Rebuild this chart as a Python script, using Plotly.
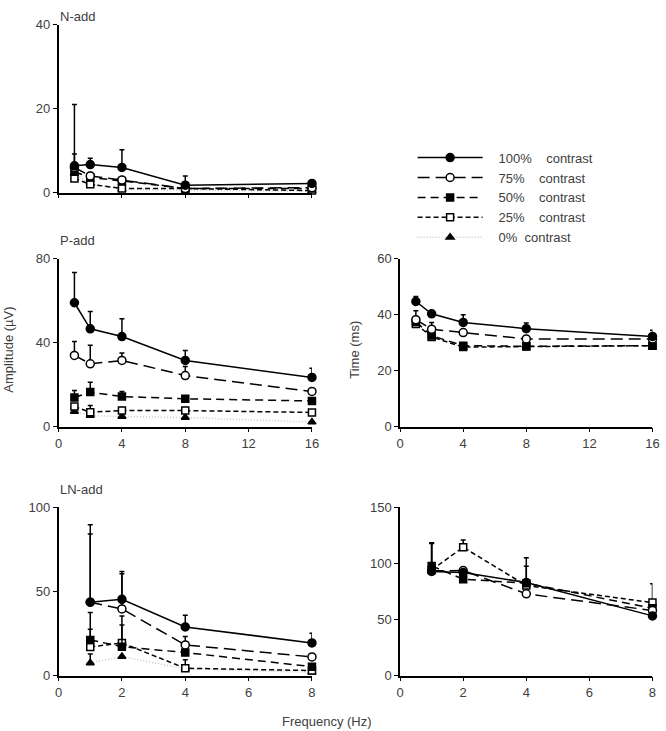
import plotly.graph_objects as go

# ---------------- data ----------------
freq16 = [1, 2, 4, 8, 16]
freq8 = [1, 2, 4, 8]
NB = "\u00a0"
series_names = [NB * 3 + "100%" + NB * 4 + "contrast",
                 NB * 3 + "75%" + NB * 4 + "contrast",
                 NB * 3 + "50%" + NB * 4 + "contrast",
                 NB * 3 + "25%" + NB * 4 + "contrast",
                 NB * 3 + "0%" + NB * 2 + "contrast"]

# N-add amplitude
n100 = [6.4, 6.7, 6.0, 1.8, 2.2]
n100_err = [2.8, 1.5, 4.2, 2.2, 0.4]
n75 = [6.0, 4.0, 3.0, 1.0, 1.2]
n75_err = [15.0, 0.8, 0.5, 0.5, 0.3]
n50 = [5.0, 3.6, 2.8, 1.0, 1.0]
n50_err = [0.8, 0.5, 0.5, 0.3, 0.3]
n25 = [3.4, 2.0, 1.0, 1.0, 0.5]
n25_err = [0.6, 0.4, 0.3, 0.3, 0.2]
n0 = [4.6, 2.2, 0.8, 0.6, 0.4]
n0_err = [0.5, 0.3, 0.2, 0.2, 0.1]

# P-add amplitude
p100 = [59.0, 46.6, 42.9, 31.5, 23.4]
p100_err = [14.4, 8.2, 8.5, 4.7, 4.4]
p75 = [33.9, 29.9, 31.5, 24.3, 16.7]
p75_err = [6.6, 8.9, 3.5, 4.3, 0.0]
p50 = [13.8, 16.4, 14.3, 13.2, 12.2]
p50_err = [3.4, 4.7, 2.4, 0.0, 0.0]
p25 = [9.5, 6.8, 7.6, 7.6, 6.7]
p25_err = [0.0, 3.2, 1.5, 1.5, 1.2]
p0 = [7.2, 5.2, 4.8, 4.3, 2.1]
p0_err = [0.0, 0.0, 0.0, 0.0, 0.0]

# P-add time
t100 = [44.7, 40.3, 37.2, 35.0, 32.2]
t100_err = [1.8, 1.1, 2.8, 2.0, 2.2]
t75 = [38.2, 34.8, 33.6, 31.3, 31.3]
t75_err = [3.2, 2.4, 0.0, 0.0, 0.0]
t50 = [37.4, 32.5, 28.9, 28.7, 28.9]
t50_err = [0.0, 1.0, 0.0, 0.0, 0.0]
t25 = [36.7, 32.0, 28.4, 28.6, 28.9]
t25_err = [0.0, 0.0, 0.0, 0.0, 0.0]

# LN-add amplitude
l100 = [43.6, 45.3, 28.9, 19.4]
l100_err = [46.0, 16.5, 6.9, 5.7]
l75 = [43.6, 39.6, 18.2, 11.1]
l75_err = [40.5, 20.8, 5.0, 1.5]
l50 = [21.2, 17.2, 13.7, 5.3]
l50_err = [16.2, 18.2, 5.1, 0.0]
l25 = [17.0, 19.4, 4.4, 3.0]
l25_err = [10.5, 10.6, 5.0, 0.5]
l0 = [7.5, 11.3, 4.0, 2.0]
l0_err = [5.4, 0.0, 0.0, 0.0]

# LN-add time
b100 = [92.7, 91.8, 82.9, 53.2]
b100_err = [0.0, 0.0, 22.0, 0.0]
b75 = [93.3, 93.6, 72.8, 58.0]
b75_err = [25.0, 0.0, 0.0, 0.0]
b50 = [97.7, 85.8, 82.3, 60.0]
b50_err = [20.0, 0.0, 15.0, 0.0]
b25 = [94.1, 114.3, 80.2, 65.0]
b25_err = [24.0, 6.5, 0.0, 16.7]

# ---------------- styles ----------------
styles = [
    dict(dash="solid", color="black", symbol="circle", fill="black", size=8),
    dict(dash="12px,6px", color="black", symbol="circle", fill="white", size=8),
    dict(dash="8px,5px", color="black", symbol="square", fill="black", size=7),
    dict(dash="5px,3px", color="black", symbol="square", fill="white", size=7),
    dict(dash="1px,2px", color="#c8c8c8", symbol="triangle-up", fill="black", size=7),
]

fig = go.Figure()


def add(x, y, err, idx, xa, ya, show):
    s = styles[idx]
    fig.add_trace(go.Scatter(
        x=x, y=y, mode="lines+markers", name=series_names[idx],
        line=dict(color=s["color"], width=1.5, dash=s["dash"]),
        marker=dict(symbol=s["symbol"], color=s["fill"], size=s["size"],
                    line=dict(color="black", width=1.5)),
        error_y=dict(type="data", array=err, arrayminus=[0] * len(err), symmetric=False,
                     color="black", thickness=1.5, width=2.5),
        xaxis=xa, yaxis=ya, showlegend=show, legendgroup=str(idx), cliponaxis=False,
    ))


nadd = [(n100, n100_err), (n75, n75_err), (n50, n50_err), (n25, n25_err), (n0, n0_err)]
padd = [(p100, p100_err), (p75, p75_err), (p50, p50_err), (p25, p25_err), (p0, p0_err)]
tadd = [(t100, t100_err), (t75, t75_err), (t50, t50_err), (t25, t25_err)]
ladd = [(l100, l100_err), (l75, l75_err), (l50, l50_err), (l25, l25_err), (l0, l0_err)]
badd = [(b100, b100_err), (b75, b75_err), (b50, b50_err), (b25, b25_err)]

for i in range(4, -1, -1):
    add(freq16, nadd[i][0], nadd[i][1], i, "x", "y", True)
for i in range(4, -1, -1):
    add(freq16, padd[i][0], padd[i][1], i, "x2", "y2", False)
for i in range(3, -1, -1):
    add(freq16, tadd[i][0], tadd[i][1], i, "x3", "y3", False)
for i in range(4, -1, -1):
    add(freq8, ladd[i][0], ladd[i][1], i, "x4", "y4", False)
for i in range(3, -1, -1):
    add(freq8, badd[i][0], badd[i][1], i, "x5", "y5", False)

W, H = 666, 731


# target pixel -> layout pixel (compensates the slight shrink seen in the rendered picture)
def cx(p):
    return (p - 4.5) / 0.982


def cy(p):
    return (p - 7.4) / 0.979


def px_x(p):
    return min(max(cx(p) / W, 0), 1)


def px_y(p):
    return min(max(1 - cy(p) / H, 0), 1)


tickfont = dict(family="Liberation Sans, Arial", size=13, color="#404040")
axis_common = dict(showline=True, linecolor="black", linewidth=1.5, ticks="outside",
                   ticklen=4, tickwidth=1.2, tickcolor="black", showgrid=False,
                   zeroline=False, tickfont=tickfont, fixedrange=True)

L = [px_x(59), px_x(312)]
R = [px_x(400), px_x(652)]
row1 = [px_y(193), px_y(25)]
row2 = [px_y(426.7), px_y(259)]
row3 = [px_y(675.7), px_y(507.3)]

fig.update_layout(
    width=W, height=H, margin=dict(l=0, r=0, t=0, b=0),
    paper_bgcolor="white", plot_bgcolor="white",
    xaxis=dict(domain=L, range=[0, 16], tickvals=[0, 4, 8, 12, 16], showticklabels=False,
               anchor="y", **axis_common),
    yaxis=dict(domain=row1, range=[0, 40], tickvals=[0, 20, 40], anchor="x", **axis_common),
    xaxis2=dict(domain=L, range=[0, 16], tickvals=[0, 4, 8, 12, 16], anchor="y2", **axis_common),
    yaxis2=dict(domain=row2, range=[0, 80], tickvals=[0, 40, 80], anchor="x2", **axis_common),
    xaxis3=dict(domain=R, range=[0, 16], tickvals=[0, 4, 8, 12, 16], anchor="y3", **axis_common),
    yaxis3=dict(domain=row2, range=[0, 60], tickvals=[0, 20, 40, 60], anchor="x3", **axis_common),
    xaxis4=dict(domain=L, range=[0, 8], tickvals=[0, 2, 4, 6, 8], anchor="y4", **axis_common),
    yaxis4=dict(domain=row3, range=[0, 100], tickvals=[0, 50, 100], anchor="x4", **axis_common),
    xaxis5=dict(domain=R, range=[0, 8], tickvals=[0, 2, 4, 6, 8], anchor="y5", **axis_common),
    yaxis5=dict(domain=row3, range=[0, 150], tickvals=[0, 50, 100, 150], anchor="x5", **axis_common),
    legend=dict(x=px_x(412.5), y=1 - 138.5 / H, xanchor="left", yanchor="top",
                traceorder="reversed", itemwidth=65, tracegroupgap=0,
                font=dict(family="Liberation Sans, Arial", size=13, color="#404040"),
                bgcolor="rgba(0,0,0,0)"),
    showlegend=True,
)

labfont = dict(family="Liberation Sans, Arial", size=13, color="#404040")
annots = [
    dict(text="N-add", x=px_x(58), y=1.0, xanchor="left", yanchor="top"),
    dict(text="P-add", x=px_x(58), y=px_y(241), xanchor="left", yanchor="middle"),
    dict(text="LN-add", x=px_x(58), y=px_y(490), xanchor="left", yanchor="middle"),
    dict(text="Amplitude (µV)", x=5 / W, y=px_y(350), textangle=-90, xanchor="center", yanchor="middle"),
    dict(text="Time (ms)", x=px_x(355), y=px_y(350), textangle=-90, xanchor="center", yanchor="middle"),
    dict(text="Frequency (Hz)", x=px_x(327), y=1 - 729 / H, xanchor="center", yanchor="middle"),
]
for a in annots:
    fig.add_annotation(xref="paper", yref="paper", showarrow=False, font=labfont, **a)

fig.write_html("out.html")
